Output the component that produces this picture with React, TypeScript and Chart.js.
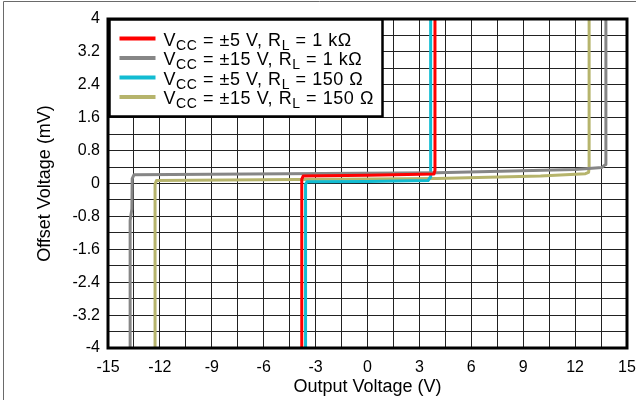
import React, { useEffect, useRef } from 'react';
import { Chart, registerables } from 'chart.js';

Chart.register(...registerables);

const FONT = '"Liberation Sans", Arial, Helvetica, sans-serif';

// ---- Data ----
const seriesNames = [
  'VCC = ±5 V, RL = 1 kΩ',
  'VCC = ±15 V, RL = 1 kΩ',
  'VCC = ±5 V, RL = 150 Ω',
  'VCC = ±15 V, RL = 150 Ω',
];
// legend text segments: [text, isSubscript]
const legendParts: [string, boolean][][] = [
  [['V', false], ['CC', true], [' = ±5 V, R', false], ['L', true], [' = 1 kΩ', false]],
  [['V', false], ['CC', true], [' = ±15 V, R', false], ['L', true], [' = 1 kΩ', false]],
  [['V', false], ['CC', true], [' = ±5 V, R', false], ['L', true], [' = 150 Ω', false]],
  [['V', false], ['CC', true], [' = ±15 V, R', false], ['L', true], [' = 150 Ω', false]],
];
const seriesColors = ['#FF0000', '#868686', '#12BCD2', '#B6B46C'];

// ±5 V, 1 kΩ
const s5v1kX = [-3.8, -3.8, -3.72, 0, 3.84, 3.9, 3.9];
const s5v1kY = [-4.3, 0.1, 0.18, 0.2, 0.23, 0.32, 4.3];
// ±15 V, 1 kΩ
const s15v1kX = [-13.72, -13.72, -13.62, -13.6, -13.5, 4, 12, 13.55, 13.75, 13.78, 13.78];
const s15v1kY = [-4.3, -0.9, -0.62, 0.12, 0.21, 0.26, 0.34, 0.39, 0.46, 0.6, 4.3];
// ±5 V, 150 Ω
const s5v150X = [-3.58, -3.58, -3.5, 0, 3.5, 3.62, 3.65, 3.65];
const s5v150Y = [-4.3, -0.02, 0.04, 0.05, 0.07, 0.15, 0.3, 4.3];
// ±15 V, 150 Ω
const s15v150X = [-12.28, -12.28, -12.2, 4, 10, 12.6, 12.78, 12.81, 12.81];
const s15v150Y = [-4.3, -0.02, 0.07, 0.12, 0.18, 0.24, 0.27, 0.4, 4.3];

const seriesX = [s5v1kX, s15v1kX, s5v150X, s15v150X];
const seriesY = [s5v1kY, s15v1kY, s5v150Y, s15v150Y];

// ---- Axes ----
const xGridValues = [-15, -13.5, -12, -10.5, -9, -7.5, -6, -4.5, -3, -1.5, 0, 1.5, 3, 4.5, 6, 7.5, 9, 10.5, 12, 13.5, 15];
const xTickLabels = [-15, -12, -9, -6, -3, 0, 3, 6, 9, 12, 15];
const yGridValues = [-4, -3.6, -3.2, -2.8, -2.4, -2, -1.6, -1.2, -0.8, -0.4, 0, 0.4, 0.8, 1.2, 1.6, 2, 2.4, 2.8, 3.2, 3.6, 4];
const yTickLabels = [-4, -3.2, -2.4, -1.6, -0.8, 0, 0.8, 1.6, 2.4, 3.2, 4];

const xTitle = 'Output Voltage (V)';
const yTitle = 'Offset Voltage (mV)';

const framePlugin = {
  id: 'frameAndLegend',
  beforeDraw(chart: any) {
    const ctx = chart.ctx;
    ctx.save();
    ctx.fillStyle = '#fff';
    ctx.fillRect(0, 0, chart.width, chart.height);
    ctx.strokeStyle = '#6a6a6a';
    ctx.lineWidth = 1;
    ctx.beginPath();
    ctx.moveTo(3.5, chart.height);
    ctx.lineTo(3.5, 1.5);
    ctx.lineTo(chart.width, 1.5);
    ctx.stroke();
    ctx.restore();
  },
  afterDatasetsDraw(chart: any) {
    const ctx = chart.ctx;
    const a = chart.chartArea;
    ctx.save();
    ctx.strokeStyle = '#000';
    ctx.lineWidth = 3;
    ctx.strokeRect(a.left, a.top, a.right - a.left, a.bottom - a.top);

    // legend box
    const bx = a.left + 1.5;
    const by = a.top + 0.5;
    const bw = 273;
    const bh = 97;
    ctx.fillStyle = '#fff';
    ctx.fillRect(bx, by, bw, bh);
    ctx.lineWidth = 2.5;
    ctx.strokeRect(bx, by, bw, bh);

    const mainFont = `18px ${FONT}`;
    const subFont = `14px ${FONT}`;
    legendParts.forEach((parts, i) => {
      const baseline = by + 26 + i * 19.5;
      ctx.strokeStyle = seriesColors[i];
      ctx.lineWidth = 4;
      ctx.beginPath();
      ctx.moveTo(bx + 10, baseline - 7);
      ctx.lineTo(bx + 46, baseline - 7);
      ctx.stroke();
      let x = bx + 54;
      ctx.fillStyle = '#000';
      ctx.textBaseline = 'alphabetic';
      ctx.textAlign = 'left';
      (ctx as any).letterSpacing = '0.55px';
      parts.forEach(([t, sub]) => {
        ctx.font = sub ? subFont : mainFont;
        ctx.fillText(t, x, sub ? baseline + 4 : baseline);
        x += ctx.measureText(t).width;
      });
      (ctx as any).letterSpacing = '0px';
    });
    ctx.restore();
  },
};

export default function App() {
  const ref = useRef<HTMLCanvasElement>(null);

  useEffect(() => {
    if (!ref.current) return;
    const datasets = seriesNames.map((name, i) => ({
      label: name,
      data: seriesX[i].map((x, j) => ({ x, y: seriesY[i][j] })),
      showLine: true,
      borderColor: seriesColors[i],
      backgroundColor: seriesColors[i],
      borderWidth: 3,
      pointRadius: 0,
      tension: 0,
      borderJoinStyle: 'round' as const,
    }));

    const chart = new Chart(ref.current, {
      type: 'scatter',
      data: { datasets },
      plugins: [framePlugin],
      options: {
        animation: false,
        responsive: false,
        layout: { padding: { top: 19, right: 9, left: 0, bottom: 0 } },
        plugins: { legend: { display: false }, tooltip: { enabled: false } },
        scales: {
          x: {
            type: 'linear',
            min: -15,
            max: 15,
            afterBuildTicks: (s: any) => {
              s.ticks = xGridValues.map((v) => ({ value: v }));
            },
            afterFit: (s: any) => {
              s.height = 52;
              s.paddingLeft = 0;
              s.paddingRight = 0;
            },
            grid: { color: '#222', lineWidth: 1, drawTicks: false },
            border: { display: false },
            ticks: {
              autoSkip: false,
              maxRotation: 0,
              padding: 10,
              color: '#000',
              font: { family: FONT, size: 16 },
              callback: (v: any) => (xTickLabels.includes(Number(v)) ? String(v) : ''),
            },
            title: {
              display: true,
              text: xTitle,
              color: '#000',
              font: { family: FONT, size: 18 },
              padding: { top: 0, bottom: 2 },
            },
          },
          y: {
            type: 'linear',
            min: -4,
            max: 4,
            afterBuildTicks: (s: any) => {
              s.ticks = yGridValues.map((v) => ({ value: v }));
            },
            afterFit: (s: any) => {
              s.width = 108;
              s.paddingTop = 0;
              s.paddingBottom = 0;
            },
            grid: { color: '#222', lineWidth: 1, drawTicks: false },
            border: { display: false },
            ticks: {
              autoSkip: false,
              padding: 8,
              color: '#000',
              font: { family: FONT, size: 16 },
              callback: (v: any) => (yTickLabels.includes(Number(v)) ? String(v) : ''),
            },
            title: {
              display: true,
              text: yTitle,
              color: '#000',
              font: { family: FONT, size: 18 },
              padding: { top: 34, bottom: 0 },
            },
          },
        },
      },
    });
    return () => chart.destroy();
  }, []);

  return (
    <div style={{ position: 'fixed', left: 0, top: 0, width: 636, height: 400, background: '#fff' }}>
      <canvas ref={ref} width={636} height={400} style={{ width: 636, height: 400, display: 'block' }} />
    </div>
  );
}
